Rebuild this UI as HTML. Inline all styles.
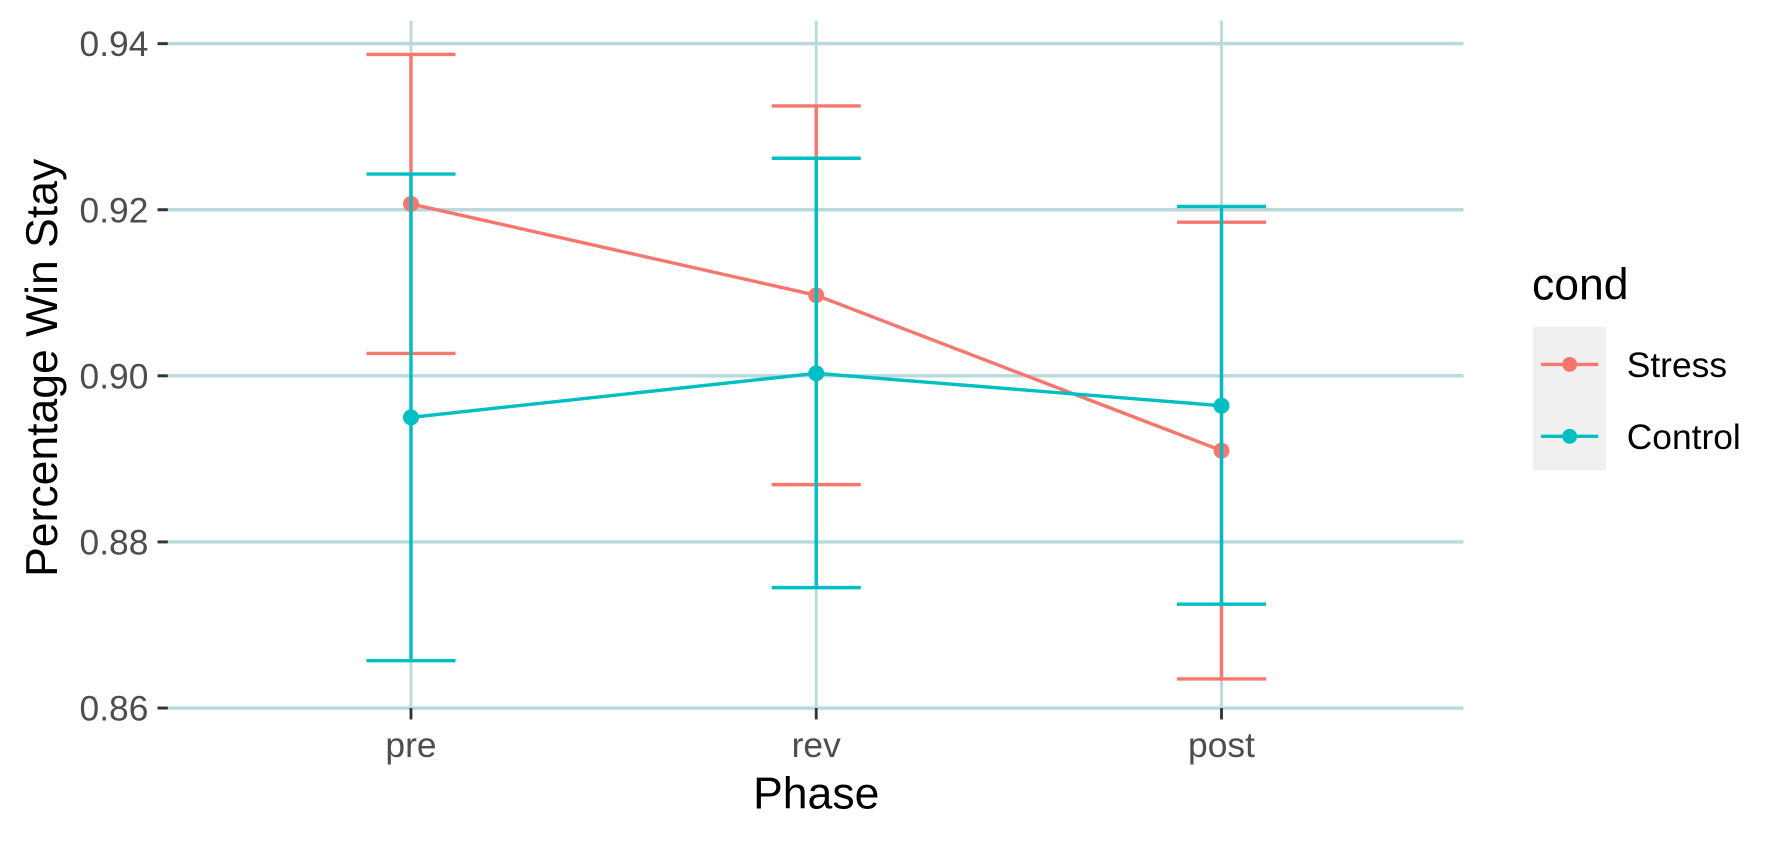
<!DOCTYPE html>
<html><head><meta charset="utf-8"><style>
html,body{margin:0;padding:0;background:#fff;}
svg{display:block;font-family:"Liberation Sans",sans-serif;}
</style></head><body>
<svg id="chart" width="1790" height="843" viewBox="0 0 1568 738" xmlns="http://www.w3.org/2000/svg">
<g id="grid"></g>
<g id="axes"></g>
<g id="marks"></g>
<text x="715" y="708" font-size="39" text-anchor="middle" fill="#000">Phase</text>
<text transform="translate(50,322) rotate(-90)" font-size="39" text-anchor="middle" fill="#000">Percentage Win Stay</text>
<g>
<text x="1342" y="262" font-size="39" fill="#000">cond</text>
<rect x="1343" y="286" width="64" height="126" fill="#f0f0f0"/>
<g>
<line x1="1350" y1="319" x2="1400" y2="319" stroke="#F8766D" stroke-width="3"/><circle cx="1375" cy="319" r="6.5" fill="#F8766D"/>
<text x="1425" y="330" font-size="31" fill="#000">Stress</text></g>
<g>
<line x1="1350" y1="382" x2="1400" y2="382" stroke="#00BFC4" stroke-width="3"/><circle cx="1375" cy="382" r="6.5" fill="#00BFC4"/>
<text x="1425" y="393" font-size="31" fill="#000">Control</text></g>
</g>
<script>
const categories=["pre","rev","post"];
const yTicks=[0.86,0.88,0.90,0.92,0.94];
const yTickLabels=["0.86","0.88","0.90","0.92","0.94"];
const stressMean=[0.9207,0.9097,0.8910];
const stressLow=[0.9027,0.8869,0.8635];
const stressHigh=[0.9387,0.9325,0.9185];
const controlMean=[0.8950,0.9003,0.8964];
const controlLow=[0.8657,0.8745,0.8725];
const controlHigh=[0.9243,0.9262,0.9204];
const NS="http://www.w3.org/2000/svg";
const x=i=>360+i*355;
const y=v=>620-(v-0.86)/0.08*582;
function mk(tag,attrs,parent){const e=document.createElementNS(NS,tag);for(const k in attrs)e.setAttribute(k,attrs[k]);parent.appendChild(e);return e;}
const grid=document.getElementById('grid'),axes=document.getElementById('axes'),marks=document.getElementById('marks');
yTicks.forEach((t,i)=>{
 const g=mk('line',{x1:138,x2:1282,y1:y(t),y2:y(t),stroke:'#b9d9db','stroke-width':3},grid);
 
 
 const tk=mk('line',{x1:138,x2:147,y1:y(t),y2:y(t),stroke:'#333','stroke-width':2.5},axes);
 
 
 const lb=mk('text',{x:130,y:y(t)+11,'font-size':31,'text-anchor':'end',fill:'#4d4d4d'},axes);
 lb.textContent=yTickLabels[i];
 
 
});
categories.forEach((c,i)=>{
 const g=mk('line',{x1:x(i),x2:x(i),y1:18,y2:620,stroke:'#b9d9db','stroke-width':2.5},grid);
 
 
 const tk=mk('line',{x1:x(i),x2:x(i),y1:620,y2:630,stroke:'#333','stroke-width':2.5},axes);
 
 
 const lb=mk('text',{x:x(i),y:663,'font-size':31,'text-anchor':'middle',fill:'#4d4d4d'},axes);
 lb.textContent=c;
 
 
});
function series(name,color,mean,lo,hi){
 const g=mk('g',{},marks);
 
 
 mean.forEach((m,i)=>{
  const eb=mk('path',{d:`M${x(i)-39},${y(hi[i])}H${x(i)+39}M${x(i)},${y(hi[i])}V${y(lo[i])}M${x(i)-39},${y(lo[i])}H${x(i)+39}`,stroke:color,'stroke-width':3,fill:'none'},g);
  
  
 });
 const ln=mk('polyline',{points:mean.map((m,i)=>x(i)+','+y(m)).join(' '),stroke:color,'stroke-width':3,fill:'none'},g);
 
 
 mean.forEach((m,i)=>{
  const p=mk('circle',{cx:x(i),cy:y(m),r:7,fill:color},g);
  
  
 });
}
series('stress','#F8766D',stressMean,stressLow,stressHigh);
series('control','#00BFC4',controlMean,controlLow,controlHigh);
</script>
</svg>
</body></html>
